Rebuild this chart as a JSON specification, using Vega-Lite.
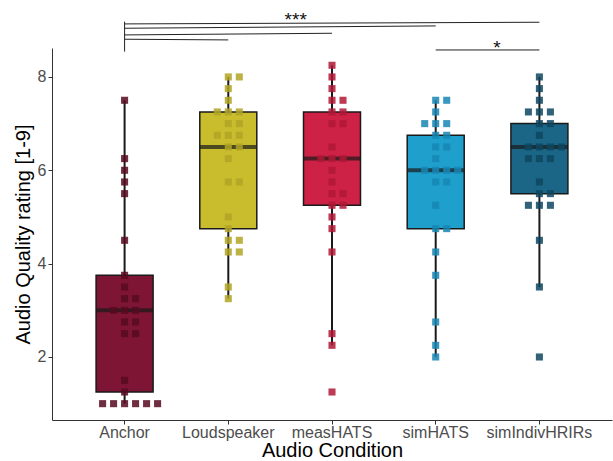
{
  "$schema": "https://vega.github.io/schema/vega-lite/v6.json",
  "width": 560,
  "height": 372,
  "autosize": {"type": "none"},
  "padding": {"left": 52, "top": 48, "right": 1, "bottom": 41},
  "background": "white",
  "config": {
    "view": {"stroke": null},
    "font": "Liberation Sans",
    "axis": {
      "labelFont": "Liberation Sans",
      "labelFontSize": 16,
      "labelColor": "#4d4d4d",
      "titleFont": "Liberation Sans",
      "titleFontSize": 20,
      "titleFontWeight": "normal",
      "titleColor": "#000000",
      "domainColor": "#333333",
      "tickColor": "#333333",
      "tickSize": 4,
      "grid": false
    }
  },
  "datasets": {
    "ratings": [
      {"condition": "Anchor", "rating": 1}, {"condition": "Anchor", "rating": 1}, {"condition": "Anchor", "rating": 1},
      {"condition": "Anchor", "rating": 1}, {"condition": "Anchor", "rating": 1}, {"condition": "Anchor", "rating": 1},
      {"condition": "Anchor", "rating": 1.25}, {"condition": "Anchor", "rating": 1.5}, {"condition": "Anchor", "rating": 2.5},
      {"condition": "Anchor", "rating": 2.5}, {"condition": "Anchor", "rating": 2.75}, {"condition": "Anchor", "rating": 2.75},
      {"condition": "Anchor", "rating": 3}, {"condition": "Anchor", "rating": 3}, {"condition": "Anchor", "rating": 3},
      {"condition": "Anchor", "rating": 3.25}, {"condition": "Anchor", "rating": 3.25}, {"condition": "Anchor", "rating": 3.5},
      {"condition": "Anchor", "rating": 3.75}, {"condition": "Anchor", "rating": 4.5}, {"condition": "Anchor", "rating": 5.5},
      {"condition": "Anchor", "rating": 5.75}, {"condition": "Anchor", "rating": 6}, {"condition": "Anchor", "rating": 6.25},
      {"condition": "Anchor", "rating": 7.5},
      {"condition": "Loudspeaker", "rating": 3.25}, {"condition": "Loudspeaker", "rating": 3.5}, {"condition": "Loudspeaker", "rating": 4.25},
      {"condition": "Loudspeaker", "rating": 4.25}, {"condition": "Loudspeaker", "rating": 4.5}, {"condition": "Loudspeaker", "rating": 4.5},
      {"condition": "Loudspeaker", "rating": 4.75}, {"condition": "Loudspeaker", "rating": 5}, {"condition": "Loudspeaker", "rating": 5.75},
      {"condition": "Loudspeaker", "rating": 5.75}, {"condition": "Loudspeaker", "rating": 6.25}, {"condition": "Loudspeaker", "rating": 6.5},
      {"condition": "Loudspeaker", "rating": 6.5}, {"condition": "Loudspeaker", "rating": 6.75}, {"condition": "Loudspeaker", "rating": 6.75},
      {"condition": "Loudspeaker", "rating": 6.75}, {"condition": "Loudspeaker", "rating": 7}, {"condition": "Loudspeaker", "rating": 7},
      {"condition": "Loudspeaker", "rating": 7.25}, {"condition": "Loudspeaker", "rating": 7.25}, {"condition": "Loudspeaker", "rating": 7.25},
      {"condition": "Loudspeaker", "rating": 7.5}, {"condition": "Loudspeaker", "rating": 7.75}, {"condition": "Loudspeaker", "rating": 8},
      {"condition": "Loudspeaker", "rating": 8},
      {"condition": "measHATS", "rating": 1.25}, {"condition": "measHATS", "rating": 2.25}, {"condition": "measHATS", "rating": 2.5},
      {"condition": "measHATS", "rating": 4.25}, {"condition": "measHATS", "rating": 4.75}, {"condition": "measHATS", "rating": 5},
      {"condition": "measHATS", "rating": 5.25}, {"condition": "measHATS", "rating": 5.25}, {"condition": "measHATS", "rating": 5.5},
      {"condition": "measHATS", "rating": 5.5}, {"condition": "measHATS", "rating": 5.75}, {"condition": "measHATS", "rating": 6},
      {"condition": "measHATS", "rating": 6.25}, {"condition": "measHATS", "rating": 6.25}, {"condition": "measHATS", "rating": 6.25},
      {"condition": "measHATS", "rating": 6.5}, {"condition": "measHATS", "rating": 7}, {"condition": "measHATS", "rating": 7},
      {"condition": "measHATS", "rating": 7.25}, {"condition": "measHATS", "rating": 7.25}, {"condition": "measHATS", "rating": 7.5},
      {"condition": "measHATS", "rating": 7.5}, {"condition": "measHATS", "rating": 7.75}, {"condition": "measHATS", "rating": 8},
      {"condition": "measHATS", "rating": 8.25},
      {"condition": "simHATS", "rating": 2}, {"condition": "simHATS", "rating": 2.25}, {"condition": "simHATS", "rating": 2.75},
      {"condition": "simHATS", "rating": 3.75}, {"condition": "simHATS", "rating": 4.25}, {"condition": "simHATS", "rating": 4.75},
      {"condition": "simHATS", "rating": 4.75}, {"condition": "simHATS", "rating": 5.25}, {"condition": "simHATS", "rating": 5.75},
      {"condition": "simHATS", "rating": 5.75}, {"condition": "simHATS", "rating": 6}, {"condition": "simHATS", "rating": 6},
      {"condition": "simHATS", "rating": 6}, {"condition": "simHATS", "rating": 6}, {"condition": "simHATS", "rating": 6.25},
      {"condition": "simHATS", "rating": 6.5}, {"condition": "simHATS", "rating": 6.5}, {"condition": "simHATS", "rating": 6.75},
      {"condition": "simHATS", "rating": 6.75}, {"condition": "simHATS", "rating": 7}, {"condition": "simHATS", "rating": 7},
      {"condition": "simHATS", "rating": 7}, {"condition": "simHATS", "rating": 7.25}, {"condition": "simHATS", "rating": 7.5},
      {"condition": "simHATS", "rating": 7.5},
      {"condition": "simIndivHRIRs", "rating": 2}, {"condition": "simIndivHRIRs", "rating": 3.5}, {"condition": "simIndivHRIRs", "rating": 4.5},
      {"condition": "simIndivHRIRs", "rating": 5.25}, {"condition": "simIndivHRIRs", "rating": 5.25}, {"condition": "simIndivHRIRs", "rating": 5.25},
      {"condition": "simIndivHRIRs", "rating": 5.5}, {"condition": "simIndivHRIRs", "rating": 5.5}, {"condition": "simIndivHRIRs", "rating": 5.75},
      {"condition": "simIndivHRIRs", "rating": 6.25}, {"condition": "simIndivHRIRs", "rating": 6.25}, {"condition": "simIndivHRIRs", "rating": 6.25},
      {"condition": "simIndivHRIRs", "rating": 6.5}, {"condition": "simIndivHRIRs", "rating": 6.5}, {"condition": "simIndivHRIRs", "rating": 6.5},
      {"condition": "simIndivHRIRs", "rating": 6.5}, {"condition": "simIndivHRIRs", "rating": 6.75}, {"condition": "simIndivHRIRs", "rating": 7},
      {"condition": "simIndivHRIRs", "rating": 7}, {"condition": "simIndivHRIRs", "rating": 7.25}, {"condition": "simIndivHRIRs", "rating": 7.25},
      {"condition": "simIndivHRIRs", "rating": 7.25}, {"condition": "simIndivHRIRs", "rating": 7.5}, {"condition": "simIndivHRIRs", "rating": 7.75},
      {"condition": "simIndivHRIRs", "rating": 8}
    ],
    "brackets": [
      {"from": "Anchor", "to": "simIndivHRIRs", "yl": 9.136, "yr": 9.172},
      {"from": "Anchor", "to": "simHATS", "yl": 9.043, "yr": 9.093},
      {"from": "Anchor", "to": "measHATS", "yl": 8.9, "yr": 8.936},
      {"from": "Anchor", "to": "Loudspeaker", "yl": 8.808, "yr": 8.793},
      {"from": "Anchor", "to": "Anchor", "yl": 8.542, "yr": 9.185},
      {"from": "simHATS", "to": "simIndivHRIRs", "yl": 8.578, "yr": 8.578}
    ]
  },
  "layer": [
    {
      "data": {"name": "ratings"},
      "mark": {
        "type": "boxplot",
        "extent": 1.5,
        "size": 57,
        "outliers": false,
        "ticks": false,
        "box": {"stroke": "#1a1a1a", "strokeWidth": 1.5},
        "median": {"color": "#1a1a1a", "thickness": 4},
        "rule": {"stroke": "#1a1a1a", "strokeWidth": 2}
      },
      "encoding": {
        "x": {
          "field": "condition",
          "type": "nominal",
          "scale": {"type": "band", "domain": ["Anchor", "Loudspeaker", "measHATS", "simHATS", "simIndivHRIRs"], "paddingInner": 0, "paddingOuter": 0.2},
          "axis": {"title": "Audio Condition", "labelAngle": 0, "labelPadding": 0, "titlePadding": 0}
        },
        "y": {
          "field": "rating",
          "type": "quantitative",
          "scale": {"domain": [0.65, 8.62], "nice": false, "zero": false},
          "axis": {"values": [2, 4, 6, 8], "title": "Audio Quality rating [1-9]", "labelPadding": 2, "titlePadding": 4}
        },
        "color": {
          "field": "condition",
          "type": "nominal",
          "scale": {"domain": ["Anchor", "Loudspeaker", "measHATS", "simHATS", "simIndivHRIRs"], "range": ["#7e1535", "#c9bd2e", "#cd2145", "#1f9fcc", "#1b6686"]},
          "legend": null
        }
      }
    },
    {
      "data": {"name": "ratings"},
      "transform": [
        {"window": [{"op": "row_number", "as": "k"}], "groupby": ["condition", "rating"]},
        {"calculate": "datum.k % 2 == 0 ? datum.k / 2 : -(datum.k - 1) / 2", "as": "slot"}
      ],
      "mark": {"type": "point", "shape": "square", "filled": true, "size": 50, "opacity": 0.85},
      "encoding": {
        "x": {"field": "condition", "type": "nominal"},
        "xOffset": {"field": "slot", "type": "quantitative", "scale": {"domain": [-5, 5], "range": [-3.15, 106.85]}},
        "y": {"field": "rating", "type": "quantitative"},
        "fill": {
          "field": "condition",
          "type": "nominal",
          "scale": {"domain": ["Anchor", "Loudspeaker", "measHATS", "simHATS", "simIndivHRIRs"], "range": ["#560a20", "#b0a424", "#b01836", "#1886b3", "#0e4660"]},
          "legend": null
        }
      }
    },
    {
      "data": {"name": "brackets"},
      "mark": {"type": "rule", "color": "#222222", "strokeWidth": 1},
      "encoding": {
        "x": {"field": "from", "type": "nominal", "bandPosition": 0.5},
        "x2": {"field": "to", "bandPosition": 0.5},
        "y": {"field": "yl", "type": "quantitative"},
        "y2": {"field": "yr"}
      }
    },
    {
      "data": {"values": [{"cond": "measHATS", "label": "***", "yv": 9.082}]},
      "mark": {"type": "text", "fontSize": 19, "color": "#111111", "align": "center", "baseline": "alphabetic"},
      "encoding": {
        "x": {"field": "cond", "type": "nominal", "bandPosition": 0.15},
        "y": {"field": "yv", "type": "quantitative"},
        "text": {"field": "label"}
      }
    },
    {
      "data": {"values": [{"cond": "simIndivHRIRs", "label": "*", "yv": 8.489}]},
      "mark": {"type": "text", "fontSize": 19, "color": "#111111", "align": "center", "baseline": "alphabetic"},
      "encoding": {
        "x": {"field": "cond", "type": "nominal", "bandPosition": 0.09},
        "y": {"field": "yv", "type": "quantitative"},
        "text": {"field": "label"}
      }
    }
  ]
}
